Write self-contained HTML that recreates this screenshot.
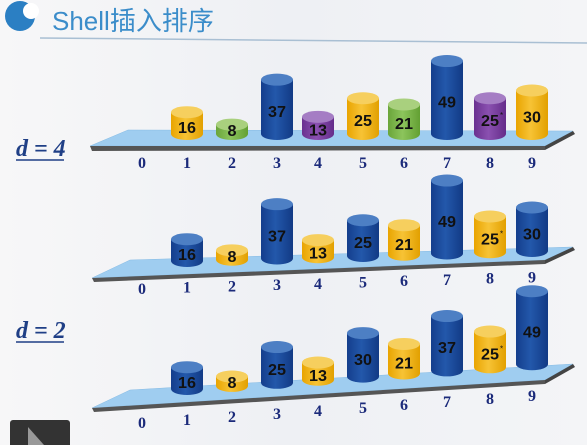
<!DOCTYPE html>
<html><head><meta charset="utf-8">
<style>
html,body{margin:0;padding:0;width:587px;height:445px;overflow:hidden;background:#f3f4f6;}
svg{display:block;}
</style></head>
<body>
<svg id="chart" width="587" height="445" viewBox="0 0 587 445" xmlns="http://www.w3.org/2000/svg">
<defs>
<linearGradient id="bg" x1="0" y1="0" x2="1" y2="0"><stop offset="0" stop-color="#f7f7f8"/><stop offset="0.5" stop-color="#eef0f4"/><stop offset="1" stop-color="#f4f5f7"/></linearGradient>
<linearGradient id="g-yellow" x1="0" x2="1"><stop offset="0" stop-color="#e9a400"/><stop offset="0.45" stop-color="#f7c335"/><stop offset="1" stop-color="#e2a000"/></linearGradient>
<linearGradient id="g-blue" x1="0" x2="1"><stop offset="0" stop-color="#143e8c"/><stop offset="0.45" stop-color="#2358ab"/><stop offset="1" stop-color="#123a85"/></linearGradient>
<linearGradient id="g-green" x1="0" x2="1"><stop offset="0" stop-color="#6aa53a"/><stop offset="0.45" stop-color="#8cc45c"/><stop offset="1" stop-color="#63a033"/></linearGradient>
<linearGradient id="g-purple" x1="0" x2="1"><stop offset="0" stop-color="#6a3190"/><stop offset="0.45" stop-color="#8a50b0"/><stop offset="1" stop-color="#652c8a"/></linearGradient>
</defs>
<rect width="587" height="445" fill="url(#bg)"/>
<g>
<circle cx="20" cy="16" r="15" fill="#2b7fc3"/>
<circle cx="31" cy="11" r="8" fill="#ffffff"/>
<text x="52" y="30" font-family="Liberation Sans, 'Noto Sans CJK SC', sans-serif" font-size="26" fill="#3b8dca">Shell插入排序</text>
<line x1="40" y1="38" x2="587" y2="43" stroke="#a9bfd3" stroke-width="1.5"/>
</g>
<g font-family="Liberation Serif, serif" font-style="italic" font-weight="bold" font-size="24" fill="#1f3f86">
<text x="16" y="156">d = 4</text>
<line x1="16" y1="160" x2="64" y2="160" stroke="#1f3f86" stroke-width="1.5"/>
<text x="16" y="338">d = 2</text>
<line x1="16" y1="342" x2="64" y2="342" stroke="#1f3f86" stroke-width="1.5"/>
</g>
<g id="rows"></g>
<rect x="10" y="420" width="60" height="30" rx="3" fill="#333"/>
<polygon points="28,427 28,445 44,445" fill="#999"/>
</svg>
<script>
const rowValues1 = [16, 8, 37, 13, 25, 21, 49, 25, 30];
const rowColors1 = ['yellow','green','blue','purple','yellow','green','blue','purple','yellow'];
const rowValues2 = [16, 8, 37, 13, 25, 21, 49, 25, 30];
const rowColors2 = ['blue','yellow','blue','yellow','blue','yellow','blue','yellow','blue'];
const rowValues3 = [16, 8, 25, 13, 30, 21, 37, 25, 49];
const rowColors3 = ['blue','yellow','blue','yellow','blue','yellow','blue','yellow','blue'];
const starIndex = 7;
const indexLabels = ['0','1','2','3','4','5','6','7','8','9'];

const NS = 'http://www.w3.org/2000/svg';
const root = document.getElementById('rows');
const topCol = {yellow:'#f6cf5e', blue:'#4d7fc4', green:'#a9d07e', purple:'#a57dc4'};
const labelX = [142,187,232,277,318,363,404,447,490,532];
function mk(tag, attrs, parent){const e=document.createElementNS(NS,tag);for(const k in attrs)e.setAttribute(k,attrs[k]);parent.appendChild(e);return e;}
function heightFor(v){return 1.55*v - 3;}

const rows = [
 {vals:rowValues1, cols:rowColors1, base:134, slope:0, labY:168, labSlope:0,
  plat:'90,146 128,130 573,131 545,146', shadow:'90,146 545,146 545,150 92,151', side:'545,146 573,131 575,134 545,150'},
 {vals:rowValues2, cols:rowColors2, base:261, slope:-1.25, labY:294, labSlope:-1.3,
  plat:'92,278 130,260 573,247 545,260', shadow:'92,278 545,260 545,264 94,282', side:'545,260 573,247 575,250 545,264'},
 {vals:rowValues3, cols:rowColors3, base:389, slope:-3.1, labY:428, labSlope:-3.0,
  plat:'92,408 130,390 573,364 545,380', shadow:'92,408 545,380 545,384 94,412', side:'545,380 573,364 575,367 545,384'}
];
rows.forEach((r, ri) => {
  const g = mk('g', {}, root);
  
  
  const p = mk('polygon', {points:r.plat, fill:'#9fcdf0', stroke:'#86bbe4', 'stroke-width':'0.5'}, g);
  
  
  mk('polygon', {points:r.shadow, fill:'#555'}, g);
  mk('polygon', {points:r.side, fill:'#444'}, g);
  indexLabels.forEach((t, i) => {
    const tx = mk('text', {x:labelX[i], y:r.labY + i*r.labSlope, 'text-anchor':'middle', 'font-family':'Liberation Serif, serif', 'font-weight':'bold', 'font-size':'16', fill:'#1b2a7a'}, g);
    tx.textContent = t;
    
    
  });
  r.vals.forEach((v, k) => {
    const i = k + 1;
    const cx = labelX[i];
    const bottom = r.base + k*r.slope;
    const h = heightFor(v);
    const w = 32, ry = 6;
    const c = r.cols[k];
    const cg = mk('g', {}, g);
    
    
    mk('ellipse', {cx:cx, cy:bottom, rx:w/2, ry:ry, fill:'url(#g-'+c+')'}, cg);
    mk('rect', {x:cx-w/2, y:bottom-h, width:w, height:h, fill:'url(#g-'+c+')'}, cg);
    mk('ellipse', {cx:cx, cy:bottom-h, rx:w/2, ry:ry, fill:topCol[c]}, cg);
    const ty = Math.min(bottom + 2, bottom - h/2 + 10);
    const tx = mk('text', {x:cx, y:ty, 'text-anchor':'middle', 'font-family':'Liberation Sans, sans-serif', 'font-weight':'bold', 'font-size':'16', fill:'#111', 'textLength': v>=10?18:9, lengthAdjust:'spacingAndGlyphs'}, cg);
    tx.textContent = String(v);
    
    
    if (k === starIndex) {
      const s = mk('text', {x:cx+10, y:ty-8, 'font-family':'Liberation Sans, sans-serif', 'font-size':'8', fill:'#111'}, cg);
      s.textContent = '*';
      
      
    }
  });
});
</script>
</body></html>
